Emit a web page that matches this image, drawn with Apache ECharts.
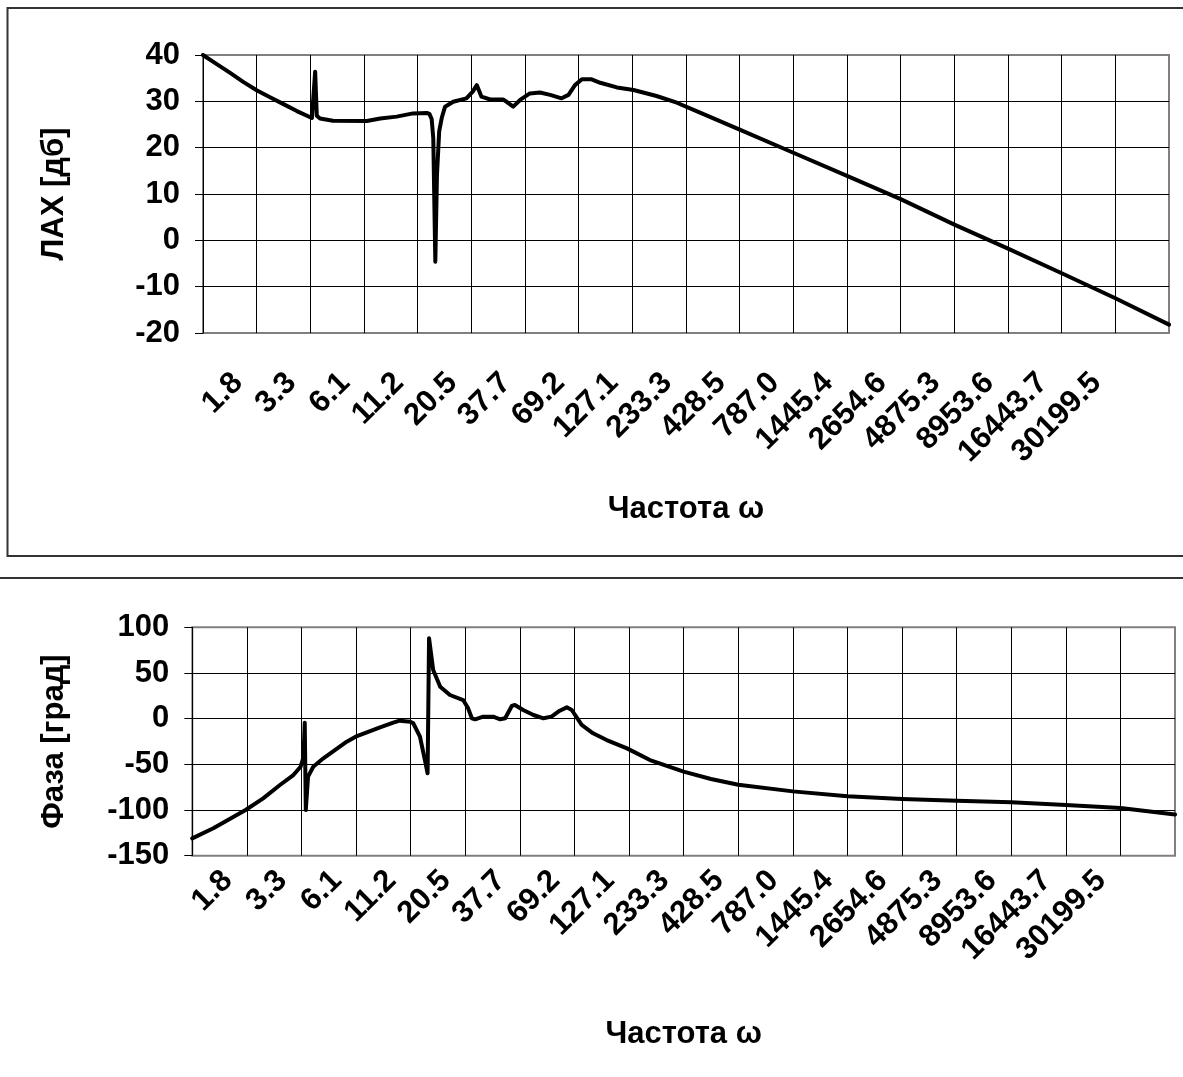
<!DOCTYPE html>
<html>
<head>
<meta charset="utf-8">
<script src="https://cdn.jsdelivr.net/npm/echarts@6/dist/echarts.min.js"></script>
<style>
html,body{margin:0;padding:0;background:#fff;}
#chart{width:1183px;height:1077px;}
</style>
</head>
<body>
<div id="chart"></div>
<script>
// Frequency tick labels (one per grid column; last column unlabelled)
const tickLabels = ['1.8','3.3','6.1','11.2','20.5','37.7','69.2','127.1','233.3','428.5','787.0','1445.4','2654.6','4875.3','8953.6','16443.7','30199.5',''];
// lg(omega) range of the frequency axis
const lgWMin = 0.2553;
const lgWMax = 5.0067;

// ЛАХ: lg(omega) and magnitude in dB
const lahLgW = [0.255,0.321,0.387,0.453,0.519,0.585,0.651,0.717,0.791,0.799,0.807,0.815,0.831,0.894,1.061,1.127,1.208,1.288,1.356,1.369,1.380,1.388,1.398,1.406,1.417,1.430,1.446,1.486,1.551,1.582,1.602,1.625,1.668,1.731,1.749,1.781,1.815,1.863,1.913,1.963,2.019,2.053,2.085,2.119,2.167,2.209,2.291,2.373,2.486,2.586,2.700,2.895,3.159,3.423,3.687,3.951,4.215,4.479,4.743,5.007];
const lahDb  = [40,38.1,36.2,34.2,32.4,30.9,29.4,27.9,26.4,26.6,36.4,26.9,26.3,25.8,25.75,26.3,26.7,27.4,27.5,27.3,26.2,22,-4.6,14,23.5,26.5,28.85,29.9,30.65,32.1,33.5,31,30.4,30.4,29.9,28.85,30.3,31.7,31.9,31.4,30.65,31.4,33.5,34.75,34.75,34,33,32.45,31.15,29.7,27.55,23.9,18.9,13.9,8.9,3.4,-1.8,-7.1,-12.5,-18.2];

// Фаза: lg(omega) and phase in degrees
const phaseLgW = [0.255,0.357,0.513,0.598,0.679,0.744,0.779,0.793,0.799,0.804,0.815,0.840,0.889,1.002,1.045,1.163,1.227,1.258,1.309,1.324,1.356,1.380,1.393,1.400,1.420,1.454,1.501,1.565,1.589,1.607,1.623,1.662,1.710,1.744,1.768,1.800,1.815,1.855,1.905,1.953,1.992,2.032,2.066,2.090,2.138,2.193,2.259,2.357,2.468,2.631,2.763,2.895,3.159,3.423,3.687,3.951,4.215,4.479,4.743,5.007];
const phaseDeg = [-131,-120,-100,-87.2,-72.6,-61.7,-52.6,-42,-4.4,-100,-63.5,-52.6,-43.4,-25.2,-19.7,-9.5,-4.4,-2.2,-3.3,-5.1,-19.7,-45.3,-59.8,88,53.3,35,25.9,20.4,11.3,0.4,-0.7,2.2,2.2,-0.7,0.4,13.9,15,9.5,4,0.4,2.2,8.7,12.4,9.5,-6.9,-16,-23.4,-32.5,-45.3,-58,-66,-72.3,-79.6,-85,-88,-89.8,-91.6,-94.5,-97.8,-105];

const FONT = 'Liberation Sans, Arial, sans-serif';
const FS = 31;
const bold = (size) => ({fontFamily: FONT, fontWeight: 'bold', fontSize: size, color: '#000'});

const chart = echarts.init(document.getElementById('chart'), null, {renderer: 'canvas'});

function gridAxes(gi, labelGi, yMin, yMax, yInt, yName, yGap, labelMargin, xNameGap) {
  return {
    x: [
      { // grid lines + axis title
        gridIndex: gi, type: 'category', data: tickLabels, boundaryGap: true,
        axisLine: {show: false}, axisTick: {show: false, interval: 0}, axisLabel: {show: false, interval: 0},
        splitLine: {show: true, interval: 0, showMinLine: false, showMaxLine: false, lineStyle: {color: '#000', width: 1}},
        name: 'Частота ω', nameLocation: 'middle', nameGap: xNameGap, nameTextStyle: bold(FS)
      },
      { // data axis (lg omega)
        gridIndex: gi, type: 'value', min: lgWMin, max: lgWMax, show: false
      },
      { // tick labels
        gridIndex: labelGi, type: 'category', data: tickLabels, boundaryGap: true,
        axisLine: {show: false}, axisTick: {show: false}, splitLine: {show: false},
        axisLabel: Object.assign({interval: 0, rotate: 45, margin: labelMargin, hideOverlap: false}, bold(FS))
      }
    ],
    y: [
      {
        gridIndex: gi, type: 'value', min: yMin, max: yMax, interval: yInt,
        axisLine: {show: true, lineStyle: {color: '#000', width: 1}},
        axisTick: {show: true, length: 8, lineStyle: {color: '#000', width: 1}},
        axisLabel: Object.assign({margin: 23}, bold(FS)),
        splitLine: {show: true, showMinLine: false, showMaxLine: false, lineStyle: {color: '#000', width: 1}},
        name: yName, nameLocation: 'middle', nameRotate: 90, nameGap: yGap, nameTextStyle: bold(FS)
      },
      {gridIndex: labelGi, type: 'value', show: false}
    ]
  };
}

const a0 = gridAxes(0, 2, -20, 40, 10, 'ЛАХ [дб]', 133, 45, 161);
const a1 = gridAxes(1, 3, -150, 100, 50, 'Фаза [град]', 122, 20, 163);

const option = {
  animation: false,
  backgroundColor: '#fff',
  graphic: [
    {type: 'rect', shape: {x: 7.5, y: 8, width: 1250, height: 548}, style: {fill: 'none', stroke: '#333', lineWidth: 2}, z: 0},
    {type: 'rect', shape: {x: -20, y: 578, width: 1250, height: 600}, style: {fill: 'none', stroke: '#333', lineWidth: 2}, z: 0}
  ],
  grid: [
    {left: 203, top: 55, width: 966, height: 278, show: true, borderColor: '#808080', borderWidth: 2, backgroundColor: 'transparent'},
    {left: 192.3, top: 627.3, width: 982.7, height: 228.4, show: true, borderColor: '#808080', borderWidth: 2, backgroundColor: 'transparent'},
    {left: 211, top: 55, width: 966, height: 278},
    {left: 200.3, top: 627.3, width: 982.7, height: 228.4}
  ],
  xAxis: [...a0.x, ...a1.x],
  yAxis: [a0.y[0], a1.y[0], a0.y[1], a1.y[1]],
  series: [
    {
      type: 'line', xAxisIndex: 1, yAxisIndex: 0, showSymbol: false, smooth: false,
      lineStyle: {color: '#000', width: 4, join: 'round', cap: 'round'},
      data: lahLgW.map((x, i) => [x, lahDb[i]]), z: 5
    },
    {
      type: 'line', xAxisIndex: 4, yAxisIndex: 1, showSymbol: false, smooth: false,
      lineStyle: {color: '#000', width: 4, join: 'round', cap: 'round'},
      data: phaseLgW.map((x, i) => [x, phaseDeg[i]]), z: 5
    }
  ]
};
option.yAxis[2].gridIndex = 2;
option.yAxis[3].gridIndex = 3;
chart.setOption(option);
</script>
</body>
</html>
